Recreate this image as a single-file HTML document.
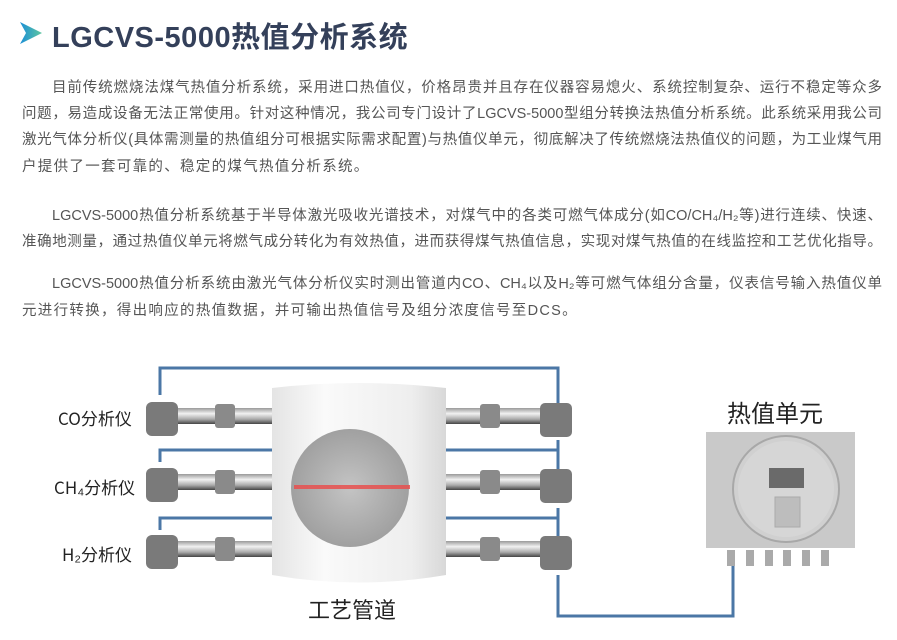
<!DOCTYPE html>
<html><head><meta charset="utf-8"><style>
body{margin:0;width:897px;height:640px;background:#fff;overflow:hidden;position:relative;font-family:"Liberation Sans","Noto Sans CJK SC",sans-serif}
.t{position:absolute;left:52px;top:14px;font-size:29px;font-weight:bold;color:#34405a;letter-spacing:0.5px}
.l{position:absolute;font-size:14.5px;color:#555;white-space:nowrap;line-height:20px}
.j{text-align:justify;text-align-last:justify}
.lab{position:absolute;font-size:17px;color:#222;font-family:"Noto Sans CJK SC",sans-serif}
</style></head><body>
<svg style="position:absolute;left:18px;top:20px" width="26" height="26" viewBox="0 0 26 26"><defs><linearGradient id="g" x1="0" x2="1"><stop offset="0" stop-color="#1b8fd6"/><stop offset="1" stop-color="#5fc7a0"/></linearGradient></defs><path d="M2 2 L24 13 L2 24 L8 13 Z" fill="url(#g)"/></svg>
<div class="t">LGCVS-5000热值分析系统</div>
<div class="l j" style="left:52px;width:830px;top:78px">目前传统燃烧法煤气热值分析系统，采用进口热值仪，价格昂贵并且存在仪器容易熄火、系统控制复杂、运行不稳定等众多</div>
<div class="l j" style="left:22px;width:860px;top:104px">问题，易造成设备无法正常使用。针对这种情况，我公司专门设计了LGCVS-5000型组分转换法热值分析系统。此系统采用我公司</div>
<div class="l j" style="left:22px;width:860px;top:130px">激光气体分析仪(具体需测量的热值组分可根据实际需求配置)与热值仪单元，彻底解决了传统燃烧法热值仪的问题，为工业煤气用</div>
<div class="l" style="left:22px;top:157px;letter-spacing:1.3px">户提供了一套可靠的、稳定的煤气热值分析系统。</div>
<div class="l j" style="left:52px;width:830px;top:206px">LGCVS-5000热值分析系统基于半导体激光吸收光谱技术，对煤气中的各类可燃气体成分(如CO/CH₄/H₂等)进行连续、快速、</div>
<div class="l j" style="left:22px;width:860px;top:232px">准确地测量，通过热值仪单元将燃气成分转化为有效热值，进而获得煤气热值信息，实现对煤气热值的在线监控和工艺优化指导。</div>
<div class="l j" style="left:52px;width:830px;top:274px">LGCVS-5000热值分析系统由激光气体分析仪实时测出管道内CO、CH₄以及H₂等可燃气体组分含量，仪表信号输入热值仪单</div>
<div class="l" style="left:22px;top:301px;letter-spacing:1.3px">元进行转换，得出响应的热值数据，并可输出热值信号及组分浓度信号至DCS。</div>

<svg style="position:absolute;left:0;top:0" width="897" height="640">
<defs>
<linearGradient id="cyl" x1="0" x2="1"><stop offset="0" stop-color="#e4e4e4"/><stop offset="0.3" stop-color="#fafafa"/><stop offset="0.8" stop-color="#eeeeee"/><stop offset="1" stop-color="#d8d8d8"/></linearGradient>
<radialGradient id="fog"><stop offset="0" stop-color="#c4c4c4"/><stop offset="1" stop-color="#a0a0a0"/></radialGradient>
<linearGradient id="pipe" x1="0" y1="0" x2="0" y2="1"><stop offset="0" stop-color="#999"/><stop offset="0.35" stop-color="#f2f2f2"/><stop offset="0.7" stop-color="#aaa"/><stop offset="1" stop-color="#444"/></linearGradient>
</defs>
<g fill="none" stroke="#4b77a6" stroke-width="3">
<path d="M160 395 V368 H558 V405"/>
<path d="M160 462 V450 H272 M446 450 H558 V470"/>
<path d="M160 530 V518 H272 M446 518 H558 V538"/>
<path d="M558 440 V450 M558 508 V518 M558 575 V616 H733 V565"/>
</g>
<g>
<rect x="175" y="408" width="100" height="16" fill="url(#pipe)"/>
<rect x="175" y="474" width="100" height="16" fill="url(#pipe)"/>
<rect x="175" y="541" width="100" height="16" fill="url(#pipe)"/>
<rect x="444" y="408" width="100" height="16" fill="url(#pipe)"/>
<rect x="444" y="474" width="100" height="16" fill="url(#pipe)"/>
<rect x="444" y="541" width="100" height="16" fill="url(#pipe)"/>
</g>
<g fill="#8a8a8a">
<rect x="215" y="404" width="20" height="24" rx="3"/><rect x="215" y="470" width="20" height="24" rx="3"/><rect x="215" y="537" width="20" height="24" rx="3"/>
<rect x="480" y="404" width="20" height="24" rx="3"/><rect x="480" y="470" width="20" height="24" rx="3"/><rect x="480" y="537" width="20" height="24" rx="3"/>
</g>
<g fill="#7a7a7a">
<rect x="146" y="402" width="32" height="34" rx="6"/><rect x="146" y="468" width="32" height="34" rx="6"/><rect x="146" y="535" width="32" height="34" rx="6"/>
<rect x="540" y="403" width="32" height="34" rx="5"/><rect x="540" y="469" width="32" height="34" rx="5"/><rect x="540" y="536" width="32" height="34" rx="5"/>
</g>
<path d="M272 388 Q359 378 446 388 V575 Q359 590 272 575 Z" fill="url(#cyl)"/>
<circle cx="350" cy="488" r="59" fill="url(#fog)"/>
<rect x="294" y="485" width="116" height="4" fill="#e8504f" opacity="0.85"/>
<rect x="706" y="432" width="149" height="116" fill="#c9c9c9"/>
<circle cx="786" cy="489" r="53" fill="#d0d0d0" stroke="#a8a8a8" stroke-width="2"/>
<circle cx="786" cy="489" r="48" fill="#d6d6d6"/>
<rect x="769" y="468" width="35" height="20" fill="#6a6a6a"/>
<rect x="775" y="497" width="25" height="30" fill="#bdbdbd" stroke="#aaa"/>
<g fill="#aaa"><rect x="727" y="550" width="8" height="16"/><rect x="746" y="550" width="8" height="16"/><rect x="765" y="550" width="8" height="16"/><rect x="783" y="550" width="8" height="16"/><rect x="802" y="550" width="8" height="16"/><rect x="821" y="550" width="8" height="16"/></g>
</svg>
<div class="lab" style="left:58px;top:405px">CO分析仪</div>
<div class="lab" style="left:54px;top:474px">CH₄分析仪</div>
<div class="lab" style="left:62px;top:541px">H₂分析仪</div>
<div class="lab" style="left:308px;top:593px;font-size:22px">工艺管道</div>
<div class="lab" style="left:727px;top:394px;font-size:24px">热值单元</div>
</body></html>
